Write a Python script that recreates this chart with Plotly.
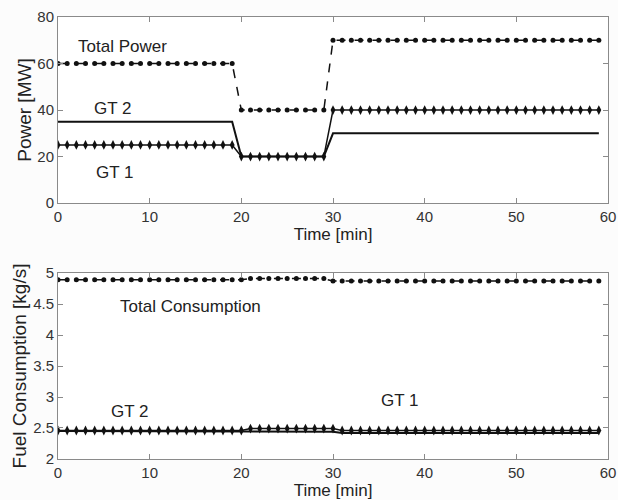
import plotly.graph_objects as go
from plotly.subplots import make_subplots

# time in minutes
time_min = list(range(60))

# Power [MW]
total_power = [60]*20 + [40]*10 + [70]*30
gt1_power = [25]*20 + [20]*10 + [40]*30
gt2_power = [35]*20 + [20]*10 + [30]*30

# Fuel consumption [kg/s]
total_fuel = [4.89]*21 + [4.91]*9 + [4.87]*30
gt1_fuel = [2.46]*21 + [2.49]*10 + [2.46]*29
gt2_fuel = [2.45]*21 + [2.44]*10 + [2.42]*29

x_ticks = [0, 10, 20, 30, 40, 50, 60]
power_ticks = [0, 20, 40, 60, 80]
fuel_ticks = [2, 2.5, 3, 3.5, 4, 4.5, 5]
fuel_tick_text = ["2", "2.5", "3", "3.5", "4", "4.5", "5"]

FONT = "Liberation Sans, Arial, sans-serif"
BLK = "#111111"

fig = make_subplots(rows=2, cols=1, vertical_spacing=0.0)

# top panel
fig.add_trace(go.Scatter(x=time_min, y=total_power, mode="lines+markers",
                         line=dict(color=BLK, width=1.5, dash="dash"),
                         marker=dict(symbol="circle", size=5, color=BLK)),
              row=1, col=1)
fig.add_trace(go.Scatter(x=time_min, y=gt1_power, mode="lines+markers",
                         line=dict(color=BLK, width=1.5),
                         marker=dict(symbol="diamond-tall", size=7, color=BLK)),
              row=1, col=1)
fig.add_trace(go.Scatter(x=time_min, y=gt2_power, mode="lines",
                         line=dict(color=BLK, width=2)),
              row=1, col=1)

# bottom panel
fig.add_trace(go.Scatter(x=time_min, y=total_fuel, mode="lines+markers",
                         line=dict(color=BLK, width=1.5, dash="dash"),
                         marker=dict(symbol="circle", size=5, color=BLK)),
              row=2, col=1)
fig.add_trace(go.Scatter(x=time_min, y=gt1_fuel, mode="lines+markers",
                         line=dict(color=BLK, width=1.5),
                         marker=dict(symbol="diamond-tall", size=7, color=BLK)),
              row=2, col=1)
fig.add_trace(go.Scatter(x=time_min, y=gt2_fuel, mode="lines",
                         line=dict(color=BLK, width=2)),
              row=2, col=1)

axis_common = dict(showline=True, mirror="ticks", linecolor="#8a8a8a", linewidth=1,
                   ticks="inside", ticklen=5, tickcolor="#8a8a8a", showgrid=False,
                   zeroline=False, automargin=False,
                   tickfont=dict(family=FONT, size=15, color="#333"))

xt_font = dict(family=FONT, size=17, color="#222")
yt_font = dict(family=FONT, size=19, color="#222")

fig.update_xaxes(range=[0, 60], tickvals=x_ticks, **axis_common)
fig.update_xaxes(title=dict(text="Time [min]", standoff=1, font=xt_font), row=1, col=1)
fig.update_xaxes(title=dict(text="Time [min]", standoff=1, font=xt_font), row=2, col=1)
fig.update_yaxes(range=[0, 80], tickvals=power_ticks,
                 title=dict(text="Power [MW]", standoff=0, font=yt_font),
                 row=1, col=1, **axis_common)
fig.update_yaxes(range=[2, 5], tickvals=fuel_ticks, ticktext=fuel_tick_text,
                 title=dict(text="Fuel Consumption [kg/s]", standoff=1, font=yt_font),
                 row=2, col=1, **axis_common)

fig.update_layout(
    xaxis=dict(domain=[0, 1]), yaxis=dict(domain=[0.579, 1.0]),
    xaxis2=dict(domain=[0, 1]), yaxis2=dict(domain=[0.0, 0.4208]),
)

ann_font = dict(family=FONT, size=17, color="#222")
annots = [
    ("x", "y", 7.0, 67.5, "Total Power"),
    ("x", "y", 5.9, 40.5, "GT 2"),
    ("x", "y", 6.2, 13.0, "GT 1"),
    ("x2", "y2", 14.4, 4.46, "Total Consumption"),
    ("x2", "y2", 7.8, 2.76, "GT 2"),
    ("x2", "y2", 37.3, 2.95, "GT 1"),
]
for xr, yr, xv, yv, txt in annots:
    fig.add_annotation(x=xv, y=yv, xref=xr, yref=yr, text=txt, showarrow=False,
                       font=ann_font)

fig.update_layout(
    width=618, height=500,
    margin=dict(l=58, r=10, t=17, b=41),
    showlegend=False,
    paper_bgcolor="#fcfcfc", plot_bgcolor="#ffffff",
)

fig.write_html("out.html", config={"displayModeBar": False},
               post_script="document.body.style.margin='0';document.body.style.overflow='hidden';")
